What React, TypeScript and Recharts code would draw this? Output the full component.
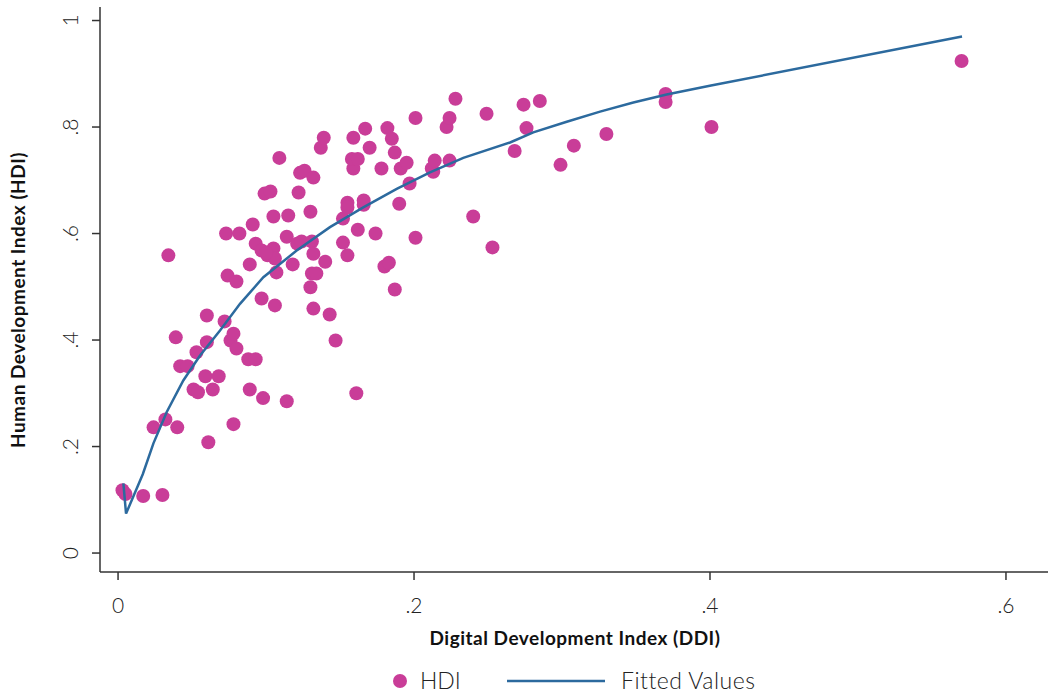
import { Scatter, ScatterChart, XAxis, YAxis } from 'recharts'

// HDI vs DDI, one entry per country
const ddi = [
  0.003, 0.005, 0.017, 0.03, 0.024, 0.032, 0.04, 0.034, 0.039, 0.042, 0.047, 0.053, 0.051, 0.054, 0.059,
  0.06, 0.06, 0.061, 0.064, 0.068, 0.072, 0.073, 0.074, 0.076, 0.078, 0.078, 0.08, 0.08, 0.082, 0.088,
  0.089, 0.089, 0.091, 0.093, 0.093, 0.097, 0.097, 0.098, 0.099, 0.103, 0.101, 0.105, 0.105, 0.106, 0.106,
  0.107, 0.109, 0.114, 0.114, 0.115, 0.118, 0.121, 0.122, 0.123, 0.126, 0.124, 0.13, 0.13, 0.131, 0.131,
  0.132, 0.132, 0.132, 0.134, 0.137, 0.139, 0.14, 0.143, 0.147, 0.152, 0.152, 0.155, 0.155, 0.155, 0.159,
  0.158, 0.159, 0.161, 0.162, 0.162, 0.166, 0.166, 0.167, 0.17, 0.174, 0.178, 0.18, 0.183, 0.182, 0.185,
  0.187, 0.187, 0.19, 0.191, 0.195, 0.197, 0.201, 0.201, 0.212, 0.213, 0.214, 0.222, 0.224, 0.224, 0.228,
  0.24, 0.249, 0.253, 0.268, 0.274, 0.276, 0.285, 0.299, 0.308, 0.33, 0.37, 0.37, 0.401, 0.57, 0.1,
]
const hdi = [
  0.118, 0.111, 0.107, 0.109, 0.236, 0.251, 0.236, 0.559, 0.405, 0.351, 0.351, 0.377, 0.307, 0.302, 0.332,
  0.396, 0.446, 0.208, 0.307, 0.332, 0.435, 0.6, 0.521, 0.399, 0.412, 0.242, 0.384, 0.51, 0.6, 0.364,
  0.542, 0.307, 0.617, 0.364, 0.581, 0.568, 0.478, 0.291, 0.675, 0.679, 0.559, 0.632, 0.572, 0.553, 0.465,
  0.527, 0.742, 0.285, 0.594, 0.634, 0.542, 0.581, 0.677, 0.714, 0.718, 0.585, 0.641, 0.499, 0.585, 0.525,
  0.562, 0.459, 0.705, 0.525, 0.761, 0.78, 0.547, 0.448, 0.399, 0.583, 0.628, 0.559, 0.658, 0.649, 0.722,
  0.74, 0.78, 0.3, 0.74, 0.607, 0.662, 0.654, 0.797, 0.761, 0.6, 0.722, 0.538, 0.545, 0.798, 0.778,
  0.495, 0.752, 0.656, 0.722, 0.733, 0.694, 0.817, 0.592, 0.722, 0.716, 0.737, 0.8, 0.817, 0.737, 0.853,
  0.632, 0.825, 0.574, 0.755, 0.842, 0.798, 0.849, 0.729, 0.765, 0.787, 0.862, 0.847, 0.8, 0.924, 0.564,
]

// fitted values, in the order they are joined
const fitDdi = [
  0.0036, 0.0054, 0.0167, 0.0239, 0.0329, 0.0441, 0.0554, 0.0689, 0.0824, 0.0982, 0.1207, 0.1432,
  0.1657, 0.1883, 0.2108, 0.2333, 0.2649, 0.2806, 0.3032, 0.3257, 0.3482, 0.3707, 0.4007, 0.5703,
]
const fitHdi = [
  0.131, 0.074, 0.148, 0.206, 0.265, 0.324, 0.371, 0.418, 0.468, 0.518, 0.568, 0.612,
  0.649, 0.684, 0.715, 0.742, 0.771, 0.79, 0.81, 0.829, 0.846, 0.861, 0.878, 0.97,
]

const xTicks = [0, 0.2, 0.4, 0.6]
const yTicks = [0, 0.2, 0.4, 0.6, 0.8, 1]

const points = ddi.map((x, i) => ({ x, y: hdi[i] }))
const fitted = fitDdi.map((x, i) => ({ x, y: fitHdi[i] }))

const PINK = '#c93d98'
const BLUE = '#2c6a9e'
const AXIS = '#333333'
const FONT = 'Lato, "Open Sans", sans-serif'

const fmt = (v: number) => (v === 0 ? '0' : v === 1 ? '1' : String(v).replace(/^0/, ''))

function YTick(props: any) {
  const { y, payload } = props
  const x = 78
  return (
    <text
      x={x}
      y={y}
      transform={`rotate(-90, ${x}, ${y})`}
      textAnchor="middle"
      fill="#222"
      fontSize={21}
      fontWeight={300}
      fontFamily={FONT}
    >
      {fmt(payload.value)}
    </text>
  )
}

function XTick(props: any) {
  const { x, payload } = props
  return (
    <text x={x} y={613} textAnchor="middle" fill="#222" fontSize={21} fontWeight={300} fontFamily={FONT}>
      {fmt(payload.value)}
    </text>
  )
}

export default function App() {
  return (
    <div style={{ position: 'absolute', left: 0, top: 0, width: 1050, height: 695, background: '#fff', fontFamily: FONT }}>
      <ScatterChart width={1050} height={695} margin={{ top: 7, right: 2, bottom: 63, left: 0 }}>
        <XAxis
          type="number"
          dataKey="x"
          domain={[-0.0122, 0.6284]}
          ticks={xTicks}
          allowDataOverflow
          height={60}
          tickSize={8}
          stroke={AXIS}
          strokeWidth={1.5}
          tick={<XTick />}
        />
        <YAxis
          type="number"
          dataKey="y"
          domain={[-0.0356, 1.0254]}
          ticks={yTicks}
          allowDataOverflow
          width={100}
          tickSize={8}
          stroke={AXIS}
          strokeWidth={1.5}
          tick={<YTick />}
        />
        <Scatter
          data={points}
          isAnimationActive={false}
          shape={(p: any) => <circle cx={p.cx} cy={p.cy} r={7} fill={PINK} />}
        />
        <Scatter
          data={fitted}
          isAnimationActive={false}
          line={{ stroke: BLUE, strokeWidth: 2.5 }}
          lineType="joint"
          shape={() => <g />}
        />
      </ScatterChart>

      <div
        style={{
          position: 'absolute',
          left: 0,
          width: 1150,
          top: 626,
          textAlign: 'center',
          fontSize: 19,
          letterSpacing: 0.5,
          fontWeight: 700,
          color: '#111',
        }}
      >
        Digital Development Index (DDI)
      </div>
      <div
        style={{
          position: 'absolute',
          left: 17,
          top: 300,
          transform: 'translate(-50%, -50%) rotate(-90deg)',
          whiteSpace: 'nowrap',
          fontSize: 19,
          letterSpacing: 0.5,
          fontWeight: 700,
          color: '#111',
        }}
      >
        Human Development Index (HDI)
      </div>

      <svg style={{ position: 'absolute', left: 0, top: 660 }} width={1050} height={35}>
        <circle cx={400} cy={21} r={7} fill={PINK} />
        <text x={420} y={29} fontSize={23} fontWeight={300} fill="#222" fontFamily={FONT}>
          HDI
        </text>
        <line x1={507} x2={605} y1={21} y2={21} stroke={BLUE} strokeWidth={2.5} />
        <text x={621} y={29} fontSize={23} fontWeight={300} letterSpacing={0.5} fill="#222" fontFamily={FONT}>
          Fitted Values
        </text>
      </svg>
    </div>
  )
}
